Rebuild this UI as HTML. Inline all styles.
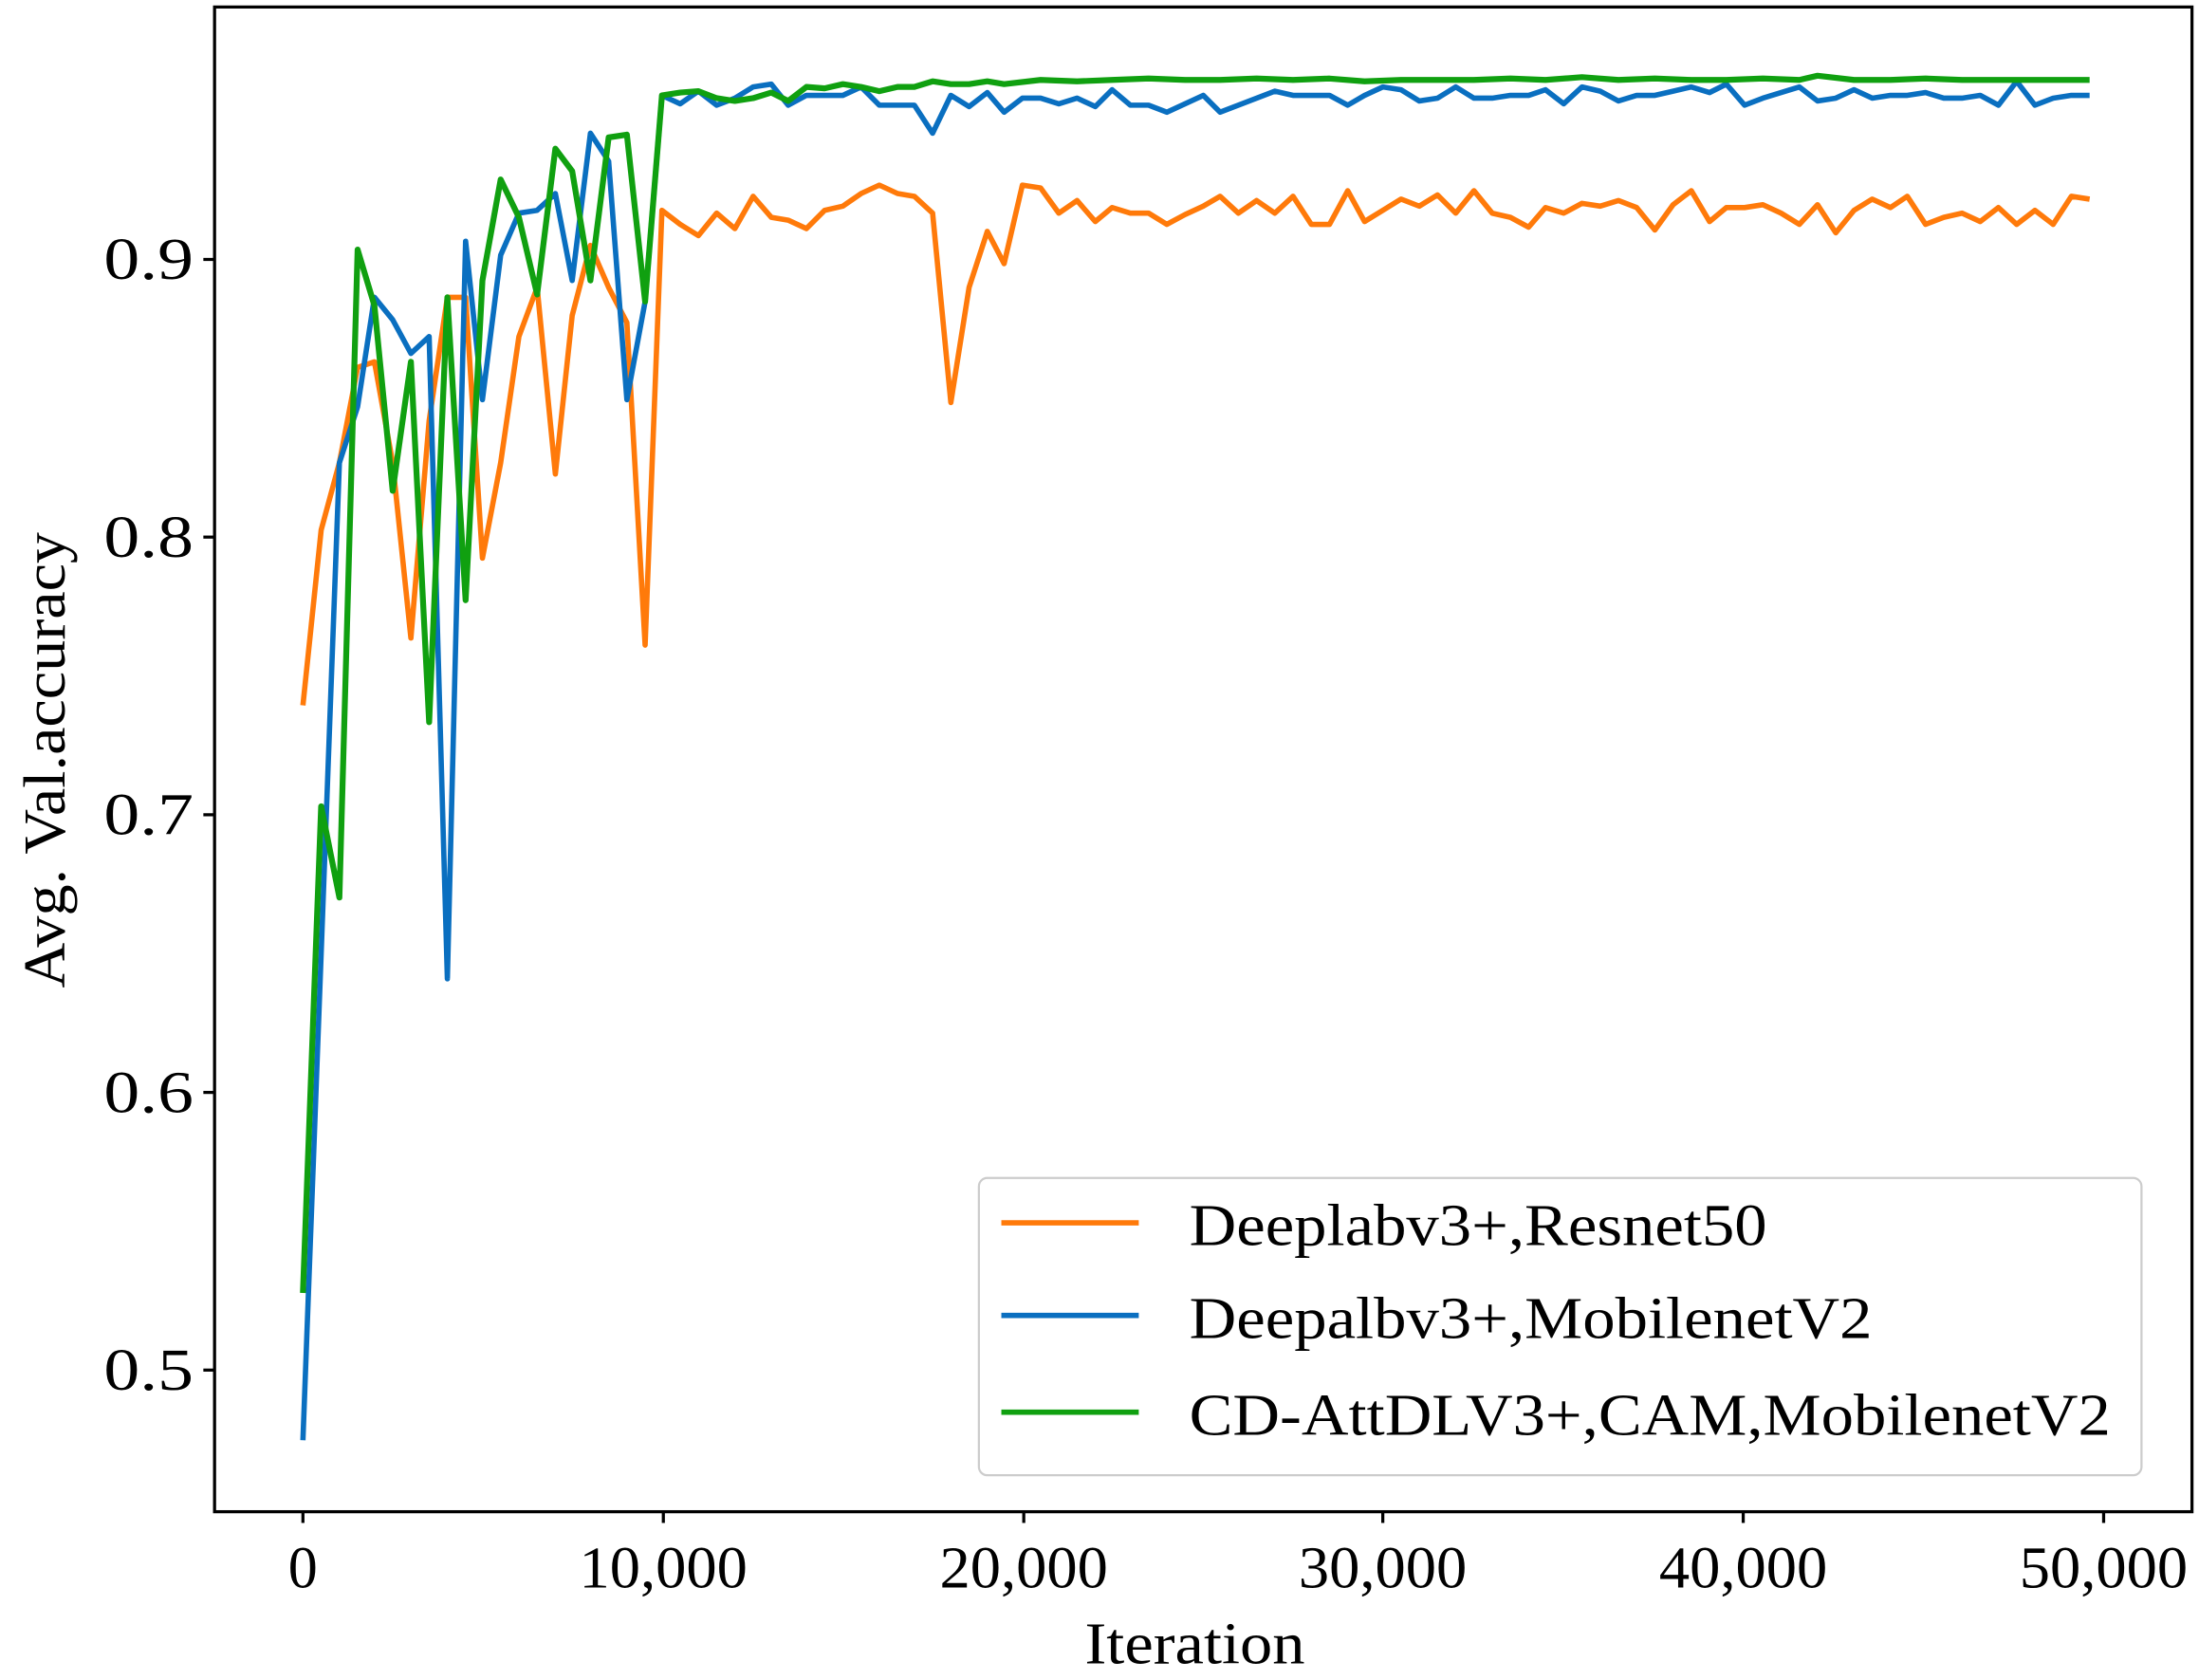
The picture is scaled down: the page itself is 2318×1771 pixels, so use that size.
<!DOCTYPE html>
<html><head><meta charset="utf-8"><style>html,body{margin:0;padding:0;background:#fff}svg{display:block}</style></head>
<body>
<svg width="2318" height="1771" viewBox="0 0 1568 1198" preserveAspectRatio="none" xmlns="http://www.w3.org/2000/svg" font-family="Liberation Serif, serif">
<rect width="1568" height="1198" fill="#fff"/>
<g fill="none" stroke-width="3.8" stroke-linejoin="round">
<polyline stroke="#ff7a0a" points="216,503 229,378 242,330 255,262 267,258 280,330 293,455 306,300 319,212 332,212 344,398 357,330 370,240 383,205 396,338 408,225 421,175 434,205 447,230 460,460 472,150 485,160 498,168 511,152 524,163 537,140 550,155 562,157 575,163 588,150 601,147 614,138 627,132 640,138 652,140 665,152 678,287 691,205 704,165 716,188 729,132 742,134 755,152 768,143 781,158 793,148 806,152 819,152 832,160 845,153 858,147 870,140 883,152 896,143 909,152 922,140 935,160 948,160 961,136 973,158 986,150 999,142 1012,147 1025,139 1038,152 1051,136 1064,152 1077,155 1090,162 1102,148 1115,152 1128,145 1141,147 1154,143 1167,148 1180,164 1193,146 1206,136 1219,158 1231,148 1244,148 1257,146 1270,152 1283,160 1296,146 1309,166 1322,150 1335,142 1348,148 1360,140 1373,160 1386,155 1399,152 1412,158 1425,148 1438,160 1451,150 1464,160 1477,140 1490,142"/>
<polyline stroke="#0a6fc0" points="216,1027 229,680 242,330 255,290 267,212 280,228 293,252 306,240 319,698 332,172 344,285 357,182 370,152 383,150 396,138 408,200 421,95 434,115 447,285 460,215 472,68 485,74 498,65 511,75 524,70 537,62 550,60 562,75 575,68 588,68 601,68 614,62 627,75 640,75 652,75 665,95 678,68 691,76 704,66 716,80 729,70 742,70 755,74 768,70 781,76 793,64 806,75 819,75 832,80 845,74 858,68 870,80 883,75 896,70 909,65 922,68 935,68 948,68 961,75 973,68 986,62 999,64 1012,72 1025,70 1038,62 1051,70 1064,70 1077,68 1090,68 1102,64 1115,74 1128,62 1141,65 1154,72 1167,68 1180,68 1193,65 1206,62 1219,66 1231,60 1244,75 1257,70 1270,66 1283,62 1296,72 1309,70 1322,64 1335,70 1348,68 1360,68 1373,66 1386,70 1399,70 1412,68 1425,75 1438,58 1451,75 1464,70 1477,68 1490,68"/>
<polyline stroke="#10a010" stroke-width="4.2" points="216,922 229,575 242,640 255,178 267,218 280,350 293,258 306,515 319,212 332,428 344,200 357,128 370,155 383,210 396,106 408,122 421,200 434,98 447,96 460,215 472,68 485,66 498,65 511,70 524,72 537,70 550,66 562,72 575,62 588,63 601,60 614,62 627,65 640,62 652,62 665,58 678,60 691,60 704,58 716,60 742,57 768,58 793,57 819,56 845,57 870,57 896,56 922,57 948,56 973,58 999,57 1025,57 1051,57 1077,56 1102,57 1128,55 1154,57 1180,56 1206,57 1231,57 1257,56 1283,57 1296,54 1322,57 1348,57 1373,56 1399,57 1425,57 1451,57 1477,57 1490,57"/>
</g>
<rect x="153" y="5" width="1410" height="1073" fill="none" stroke="#000" stroke-width="2.2"/>
<g stroke="#000" stroke-width="2.2">
<line x1="145" y1="185" x2="153" y2="185"/><line x1="145" y1="383" x2="153" y2="383"/><line x1="145" y1="581" x2="153" y2="581"/><line x1="145" y1="779" x2="153" y2="779"/><line x1="145" y1="977" x2="153" y2="977"/>
<line x1="216" y1="1078" x2="216" y2="1086"/><line x1="473" y1="1078" x2="473" y2="1086"/><line x1="730" y1="1078" x2="730" y2="1086"/><line x1="986" y1="1078" x2="986" y2="1086"/><line x1="1243" y1="1078" x2="1243" y2="1086"/><line x1="1500" y1="1078" x2="1500" y2="1086"/>
</g>
<g font-size="42" fill="#000" text-anchor="end">
<text x="138" y="199" textLength="64" lengthAdjust="spacingAndGlyphs">0.9</text><text x="138" y="397" textLength="64" lengthAdjust="spacingAndGlyphs">0.8</text><text x="138" y="595" textLength="64" lengthAdjust="spacingAndGlyphs">0.7</text><text x="138" y="793" textLength="64" lengthAdjust="spacingAndGlyphs">0.6</text><text x="138" y="991" textLength="64" lengthAdjust="spacingAndGlyphs">0.5</text>
</g>
<g font-size="42" fill="#000" text-anchor="middle">
<text x="216" y="1132">0</text><text x="473" y="1132" textLength="120" lengthAdjust="spacingAndGlyphs">10,000</text><text x="730" y="1132" textLength="120" lengthAdjust="spacingAndGlyphs">20,000</text><text x="986" y="1132" textLength="120" lengthAdjust="spacingAndGlyphs">30,000</text><text x="1243" y="1132" textLength="120" lengthAdjust="spacingAndGlyphs">40,000</text><text x="1500" y="1132" textLength="120" lengthAdjust="spacingAndGlyphs">50,000</text>
<text x="852" y="1186" textLength="157" lengthAdjust="spacingAndGlyphs">Iteration</text>
<text transform="translate(46,542) rotate(-90)" textLength="325" lengthAdjust="spacingAndGlyphs">Avg. Val.accuracy</text>
</g>
<rect x="698" y="840" width="829" height="212" rx="6" fill="#fff" stroke="#ccc" stroke-width="1.5"/>
<g stroke-width="3.8">
<line x1="714" y1="872" x2="812" y2="872" stroke="#ff7a0a"/>
<line x1="714" y1="938" x2="812" y2="938" stroke="#0a6fc0"/>
<line x1="714" y1="1007" x2="812" y2="1007" stroke="#10a010"/>
</g>
<g font-size="42" fill="#000">
<text x="848" y="888" textLength="412" lengthAdjust="spacingAndGlyphs">Deeplabv3+,Resnet50</text>
<text x="848" y="954" textLength="487" lengthAdjust="spacingAndGlyphs">Deepalbv3+,MobilenetV2</text>
<text x="848" y="1023" textLength="657" lengthAdjust="spacingAndGlyphs">CD-AttDLV3+,CAM,MobilenetV2</text>
</g>
</svg>
</body></html>
